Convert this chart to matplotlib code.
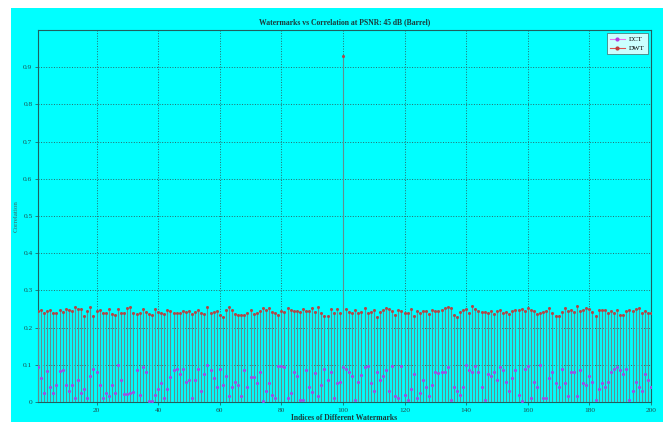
import matplotlib
matplotlib.use("Agg")
import matplotlib.pyplot as plt
from matplotlib.lines import Line2D
from matplotlib.patches import Rectangle
import numpy as np

# indices 1..200
idx = np.arange(1, 201)

dwt = [0.245, 0.248, 0.240, 0.244, 0.247, 0.238, 0.240, 0.246, 0.243, 0.250,
       0.247, 0.245, 0.255, 0.250, 0.251, 0.232, 0.244, 0.255, 0.230, 0.245,
       0.246, 0.240, 0.238, 0.250, 0.236, 0.233, 0.249, 0.238, 0.240, 0.252,
       0.255, 0.240, 0.236, 0.240, 0.250, 0.242, 0.236, 0.233, 0.250, 0.242,
       0.240, 0.236, 0.246, 0.244, 0.238, 0.238, 0.240, 0.244, 0.242, 0.244,
       0.236, 0.241, 0.246, 0.238, 0.237, 0.255, 0.240, 0.243, 0.245, 0.233,
       0.228, 0.248, 0.255, 0.247, 0.237, 0.235, 0.235, 0.235, 0.238, 0.246,
       0.236, 0.238, 0.244, 0.254, 0.246, 0.254, 0.242, 0.240, 0.235, 0.245,
       0.243, 0.254, 0.247, 0.245, 0.245, 0.243, 0.250, 0.245, 0.244, 0.252,
       0.241, 0.256, 0.238, 0.232, 0.230, 0.249, 0.238, 0.249, 0.238, 0.930,
       0.250, 0.243, 0.238, 0.246, 0.240, 0.242, 0.252, 0.240, 0.243, 0.248,
       0.228, 0.241, 0.246, 0.252, 0.251, 0.244, 0.235, 0.246, 0.245, 0.240,
       0.238, 0.249, 0.232, 0.245, 0.240, 0.244, 0.244, 0.236, 0.246, 0.244,
       0.245, 0.247, 0.252, 0.255, 0.253, 0.235, 0.228, 0.241, 0.248, 0.250,
       0.240, 0.258, 0.249, 0.245, 0.243, 0.242, 0.238, 0.244, 0.236, 0.245,
       0.246, 0.240, 0.243, 0.236, 0.244, 0.248, 0.246, 0.250, 0.244, 0.252,
       0.246, 0.245, 0.236, 0.240, 0.243, 0.244, 0.252, 0.240, 0.232, 0.231,
       0.243, 0.254, 0.245, 0.248, 0.243, 0.258, 0.244, 0.246, 0.253, 0.249,
       0.243, 0.232, 0.247, 0.246, 0.248, 0.238, 0.245, 0.240, 0.247, 0.233,
       0.235, 0.244, 0.247, 0.244, 0.250, 0.252, 0.240, 0.245, 0.238, 0.240]

dct = [0.095, 0.065, 0.025, 0.082, 0.040, 0.025, 0.045, 0.083, 0.085, 0.045,
       0.030, 0.045, 0.010, 0.058, 0.025, 0.035, 0.010, 0.070, 0.090, 0.080,
       0.045, 0.012, 0.025, 0.015, 0.045, 0.025, 0.100, 0.060, 0.022, 0.022,
       0.025, 0.028, 0.085, 0.020, 0.095, 0.080, 0.002, 0.003, 0.018, 0.035,
       0.050, 0.010, 0.035, 0.068, 0.085, 0.088, 0.075, 0.090, 0.055, 0.060,
       0.010, 0.058, 0.090, 0.030, 0.075, 0.100, 0.085, 0.065, 0.040, 0.090,
       0.045, 0.070, 0.015, 0.040, 0.055, 0.045, 0.015, 0.085, 0.040, 0.066,
       0.066, 0.050, 0.080, 0.003, 0.030, 0.050, 0.020, 0.012, 0.098, 0.097,
       0.095, 0.010, 0.025, 0.080, 0.070, 0.005, 0.005, 0.085, 0.040, 0.028,
       0.078, 0.015, 0.045, 0.090, 0.060, 0.080, 0.010, 0.050, 0.053, 0.095,
       0.088, 0.080, 0.070, 0.005, 0.055, 0.072, 0.095, 0.098, 0.050, 0.030,
       0.080, 0.060, 0.070, 0.085, 0.030, 0.098, 0.015, 0.010, 0.098, 0.020,
       0.005, 0.035, 0.075, 0.010, 0.025, 0.060, 0.040, 0.015, 0.045, 0.080,
       0.078, 0.080, 0.080, 0.095, 0.005, 0.040, 0.030, 0.020, 0.040, 0.100,
       0.085, 0.080, 0.098, 0.080, 0.040, 0.005, 0.075, 0.070, 0.080, 0.060,
       0.095, 0.085, 0.055, 0.030, 0.065, 0.085, 0.018, 0.003, 0.090, 0.098,
       0.010, 0.055, 0.040, 0.100, 0.010, 0.012, 0.065, 0.080, 0.050, 0.040,
       0.090, 0.050, 0.015, 0.080, 0.080, 0.015, 0.085, 0.050, 0.045, 0.070,
       0.055, 0.005, 0.035, 0.050, 0.040, 0.055, 0.080, 0.090, 0.095, 0.085,
       0.075, 0.090, 0.005, 0.030, 0.055, 0.040, 0.030, 0.075, 0.060, 0.040]

xticks = [20, 40, 60, 80, 100, 120, 140, 160, 180, 200]
yticks = [0, 0.1, 0.2, 0.3, 0.4, 0.5, 0.6, 0.7, 0.8, 0.9]

cyan = '#00ffff'
plt.rcParams['font.family'] = ['Liberation Serif', 'DejaVu Serif']

fig = plt.figure(figsize=(6.63, 4.22), dpi=100, facecolor=cyan)
# white margin on top and left like the scanned figure
fig.patches.append(Rectangle((0, 1 - 8 / 422), 1, 8 / 422, transform=fig.transFigure,
                             facecolor='white', edgecolor='none', zorder=-1))
fig.patches.append(Rectangle((0, 0), 11 / 663, 1, transform=fig.transFigure,
                             facecolor='white', edgecolor='none', zorder=-1))

ax = fig.add_axes([38 / 663, 1 - 402 / 422, (651 - 38) / 663, (402 - 30) / 422])
ax.set_facecolor(cyan)

stem_col = '#5f8f90'
ax.vlines(idx, 0, dct, color='#a070c0', lw=0.6, zorder=2)
ax.vlines(idx, 0, dwt, color=stem_col, lw=0.8, zorder=3)
ax.plot(idx, dct, 'o', ms=2.3, color='#9c50e0', mec='none', zorder=4)
ax.plot(idx, dwt, 'o', ms=2.2, color='#b04848', mec='none', zorder=5)

ax.set_xlim(1, 200)
ax.set_ylim(0, 1)
ax.set_xticks(xticks)
ax.set_yticks(yticks)
ax.set_yticklabels(['0' if v == 0 else ('%.1f' % v) for v in yticks])
ax.grid(True, color='#2a6a6a', ls=':', lw=0.7)
ax.set_axisbelow(True)
for s in ax.spines.values():
    s.set_color('#1f6060')
    s.set_linewidth(0.8)
ax.tick_params(labelsize=5.3, colors='#1f5050', length=2, width=0.5, pad=2)

ax.set_title('Watermarks vs Correlation at PSNR: 45 dB (Barrel)', fontsize=5.5,
             fontweight='bold', color='#1a3a3a', pad=4)
ax.set_xlabel('Indices of Different Watermarks', fontsize=5.5, fontweight='bold',
              color='#1a3a3a', labelpad=1)
ax.set_ylabel('Correlation', fontsize=5, color='#3a6a6a', labelpad=3)

handles = [Line2D([0], [0], color='#f070f0', marker='o', ms=2, mfc='#b040e0', mec='#b040e0', lw=0.8),
           Line2D([0], [0], color='#e05050', marker='o', ms=2, mfc='#c03c3c', mec='#c03c3c', lw=0.8)]
leg = ax.legend(handles, ['DCT', 'DWT'], loc='upper right', fontsize=5, frameon=True,
                fancybox=False, handlelength=2.2, numpoints=1, borderpad=0.4,
                labelspacing=0.5, handletextpad=0.6, borderaxespad=0.5)
leg.get_frame().set_edgecolor('#406060')
leg.get_frame().set_linewidth(0.6)

fig.savefig('out.png', dpi=100, facecolor=cyan)
